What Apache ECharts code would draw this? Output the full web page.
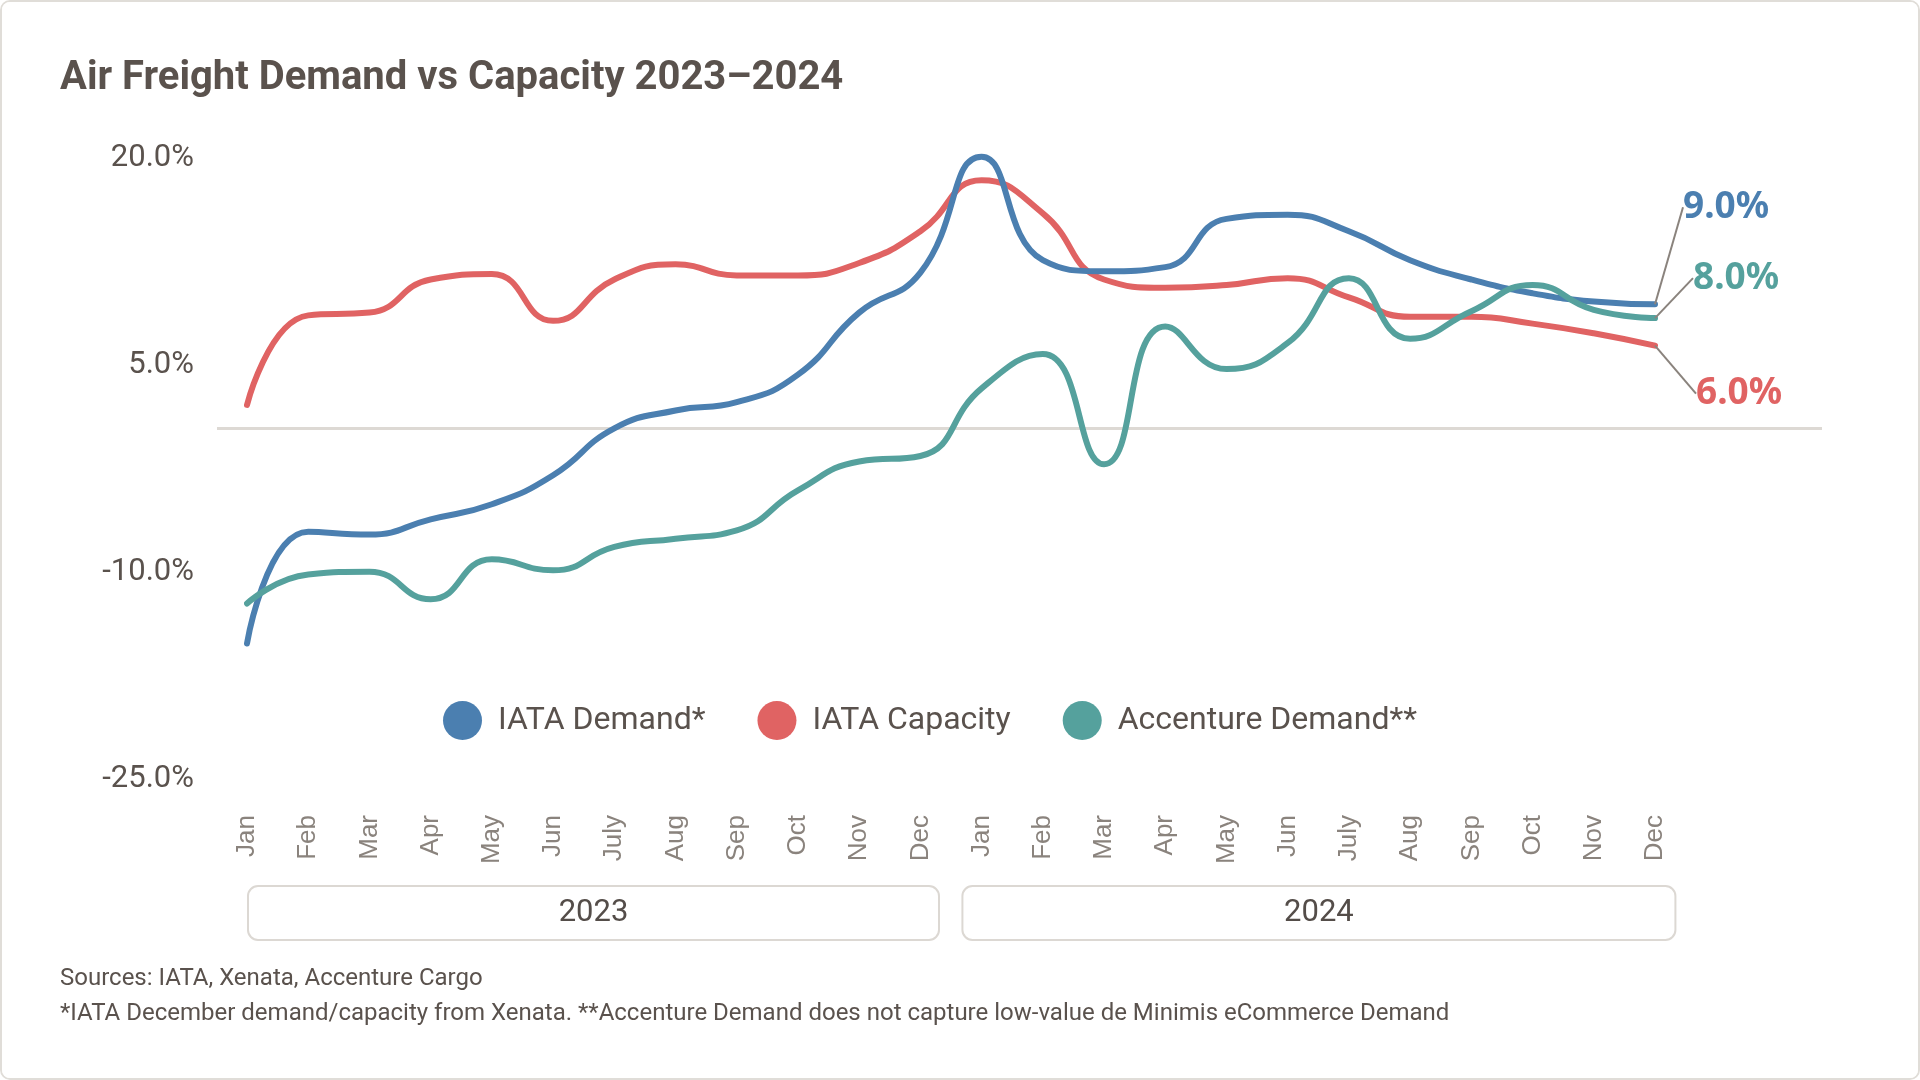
<!DOCTYPE html>
<html>
<head>
<meta charset="utf-8">
<script src="https://cdn.jsdelivr.net/npm/echarts@6/dist/echarts.min.js"></script>
<style>
html,body{margin:0;padding:0;background:#fff;}
#wrap{width:1920px;height:1080px;box-sizing:border-box;border:2px solid #e0ddd8;border-radius:10px;overflow:hidden;}
#chart{width:1916px;height:1076px;}
</style>
</head>
<body>
<div id="wrap"><div id="chart"></div></div>
<script>
const months = ['Jan','Feb','Mar','Apr','May','Jun','July','Aug','Sep','Oct','Nov','Dec',
                'Jan','Feb','Mar','Apr','May','Jun','July','Aug','Sep','Oct','Nov','Dec'];
const years = ['2023','2024'];
const yTicks = [-25, -10, 5, 20];
const seriesNames = ['IATA Demand*','IATA Capacity','Accenture Demand**'];
const iataDemand = [-15.6,-7.5,-7.7,-6.6,-5.5,-3.4,0.0,1.3,1.9,3.9,8.4,11.3,
                    19.7,12.2,11.4,11.7,15.2,15.5,14.3,12.2,10.8,9.8,9.2,9.0];
const iataCapacity = [1.7,8.2,8.4,10.8,11.2,7.8,10.8,11.9,11.1,11.1,12.0,14.3,
                      18.0,15.6,10.8,10.2,10.4,10.9,9.5,8.1,8.1,7.6,6.9,6.0];
const accentureDemand = [-12.7,-10.6,-10.4,-12.4,-9.5,-10.3,-8.6,-8.0,-7.4,-4.5,-2.4,-2.0,
                         2.9,5.4,-2.6,7.4,4.3,6.2,10.9,6.5,8.5,10.4,8.6,8.0];
const zeroLine = [[0,0],[1,0]];

const colors = ['#4b7fb0','#e06363','#55a19d'];
const textDark = '#5a524d';

function withEndLabel(arr, color, dx, dy) {
  return {
    data: arr.map((v, i) => i === arr.length - 1 ? {
      value: v,
      label: {
        show: true, position: 'right', distance: 0,
        formatter: p => p.value.toFixed(1) + '%',
        color: color, fontSize: 37, fontWeight: 'bold', fontFamily: 'Noto Sans'
      },
      labelLine: { show: true, lineStyle: { color: '#8a837d', width: 2 } }
    } : v),
    labelLayout: { dx: dx, dy: dy }
  };
}

const chart = echarts.init(document.getElementById('chart'), null, {renderer: 'canvas'});
const e1 = withEndLabel(iataDemand, colors[0], 28, -97);
const e2 = withEndLabel(iataCapacity, colors[1], 41, 48);
const e3 = withEndLabel(accentureDemand, colors[2], 38, -40);

const option = {
  backgroundColor: '#fff',
  animation: false,
  color: colors,
  title: [
    { text: 'Air Freight Demand vs Capacity 2023–2024', left: 58, top: 57, padding: 0,
      textStyle: { fontFamily: 'Roboto', fontSize: 40, fontWeight: 'bold', color: textDark } },
    { text: 'Sources: IATA, Xenata, Accenture Cargo', left: 58, top: 965, padding: 0,
      textStyle: { fontFamily: 'Roboto', fontSize: 24, fontWeight: 'normal', color: textDark } },
    { text: '*IATA December demand/capacity from Xenata. **Accenture Demand does not capture low-value de Minimis eCommerce Demand',
      left: 58, top: 1000, padding: 0,
      textStyle: { fontFamily: 'Roboto', fontSize: 24, fontWeight: 'normal', color: textDark } }
  ],
  legend: {
    data: seriesNames, left: 441, top: 699, padding: 0, icon: 'circle',
    itemWidth: 39, itemHeight: 39, itemGap: 52,
    textStyle: { fontFamily: 'Roboto', fontSize: 32, color: textDark, padding: [0,0,0,11] }
  },
  grid: [
    { left: 245, right: 263, top: 150.7, bottom: 305 },
    { left: 215, right: 96, top: 150.7, bottom: 305 }
  ],
  xAxis: [
    { type: 'category', data: months, boundaryGap: false, gridIndex: 0,
      axisLine: { show: false }, axisTick: { show: false }, splitLine: { show: false },
      axisLabel: { rotate: 90, margin: 42, interval: 0, fontFamily: 'Liberation Sans', fontSize: 26, color: '#8a837d' } },
    { type: 'value', gridIndex: 0, min: 0, max: 23, position: 'bottom',
      axisLine: { show: false }, axisTick: { show: false }, splitLine: { show: false },
      axisLabel: {
        margin: 113,
        customValues: [5.66, 17.51],
        formatter: v => v < 12 ? '{a|' + years[0] + '}' : '{b|' + years[1] + '}',
        rich: {
          a: { width: 691, height: 54, lineHeight: 54, align: 'center', fontFamily: 'Roboto', fontSize: 31,
               color: '#544d49', borderColor: '#dcd8d3', borderWidth: 2, borderRadius: 10 },
          b: { width: 713, height: 54, lineHeight: 54, align: 'center', fontFamily: 'Roboto', fontSize: 31,
               color: '#544d49', borderColor: '#dcd8d3', borderWidth: 2, borderRadius: 10 }
        }
      } },
    { type: 'value', gridIndex: 1, min: 0, max: 1, show: false }
  ],
  yAxis: [
    { type: 'value', gridIndex: 0, min: -25, max: 20,
      axisLine: { show: false }, axisTick: { show: false }, splitLine: { show: false },
      axisLabel: { customValues: yTicks, margin: 53, verticalAlign: 'top', lineHeight: 12,
        formatter: v => v.toFixed(1) + '%',
        fontFamily: 'Roboto', fontSize: 31, color: textDark } },
    { type: 'value', gridIndex: 1, min: -25, max: 20, show: false }
  ],
  series: [
    { type: 'line', name: '_zero', xAxisIndex: 2, yAxisIndex: 1, data: zeroLine,
      symbol: 'none', silent: true, z: 1, lineStyle: { color: '#ddd9d4', width: 3 } },
    { type: 'line', name: seriesNames[0], data: e1.data, labelLayout: e1.labelLayout,
      smooth: 0.5, symbol: 'circle', symbolSize: 0, showSymbol: true, z: 4,
      lineStyle: { width: 6, color: colors[0], cap: 'round' }, itemStyle: { color: colors[0] } },
    { type: 'line', name: seriesNames[1], data: e2.data, labelLayout: e2.labelLayout,
      smooth: 0.5, symbol: 'circle', symbolSize: 0, showSymbol: true, z: 3,
      lineStyle: { width: 6, color: colors[1], cap: 'round' }, itemStyle: { color: colors[1] } },
    { type: 'line', name: seriesNames[2], data: e3.data, labelLayout: e3.labelLayout,
      smooth: 0.5, symbol: 'circle', symbolSize: 0, showSymbol: true, z: 5,
      lineStyle: { width: 6, color: colors[2], cap: 'round' }, itemStyle: { color: colors[2] } }
  ]
};
chart.setOption(option);
</script>
</body>
</html>
